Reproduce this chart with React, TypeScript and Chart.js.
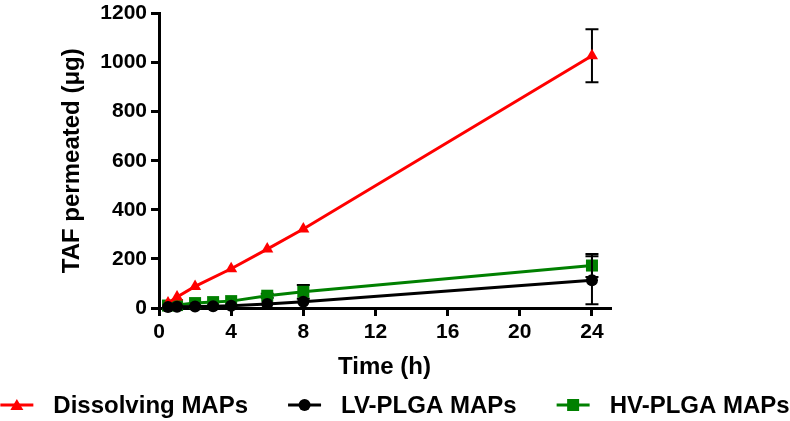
import React, { useEffect, useRef } from 'react';
import { Chart, registerables } from 'chart.js';

Chart.register(...registerables);

// ---- data ----
const TIMES_DISSOLVING = [0.5, 1, 2, 4, 6, 8, 24];
const DISSOLVING = [20, 45, 88, 160, 240, 322, 1028];
const DISSOLVING_ERR = [0, 0, 0, 0, 0, 0, 108];

const TIMES_PLGA = [0.5, 1, 2, 3, 4, 6, 8, 24];
const LV_PLGA = [4, 5, 6, 7, 9, 16, 25, 113];
const LV_PLGA_ERR = [0, 0, 0, 0, 0, 0, 0, 98];
const HV_PLGA = [10, 12, 20, 24, 28, 50, 66, 173];
const HV_PLGA_ERR = [0, 0, 0, 0, 0, 8, 28, 47];

const X_TICKS = [0, 4, 8, 12, 16, 20, 24];
const Y_TICKS = [0, 200, 400, 600, 800, 1000, 1200];

const SERIES_LABELS = ['Dissolving MAPs', 'LV-PLGA MAPs', 'HV-PLGA MAPs'];
const SERIES_COLORS = ['#ff0000', '#000000', '#008000'];
const SERIES_SHAPES = ['triangle', 'circle', 'rect'];
const SERIES_ORDER = [1, 0, 2];

const FONT_FAMILY = '"Liberation Sans", Arial, Helvetica, sans-serif';

const toPoints = (xs: number[], ys: number[]) => xs.map((x, i) => ({ x, y: ys[i] }));

const errorBarPlugin = {
  id: 'errorBars',
  beforeDatasetDraw(chart: any, args: any) {
    const ds = chart.data.datasets[args.index];
    const errs: number[] | undefined = ds.errors;
    if (!errs) return;
    const yScale = chart.scales.y;
    const ctx = chart.ctx;
    ctx.save();
    ctx.strokeStyle = '#000';
    ctx.lineWidth = 2;
    args.meta.data.forEach((pt: any, i: number) => {
      const e = errs[i];
      if (!e) return;
      const v = ds.data[i].y;
      const yt = yScale.getPixelForValue(v + e);
      const yb = yScale.getPixelForValue(v - e);
      const x = pt.x;
      ctx.beginPath();
      ctx.moveTo(x, yt);
      ctx.lineTo(x, yb);
      ctx.moveTo(x - 6.5, yt);
      ctx.lineTo(x + 6.5, yt);
      ctx.moveTo(x - 6.5, yb);
      ctx.lineTo(x + 6.5, yb);
      ctx.stroke();
    });
    ctx.restore();
  },
};

function drawMarker(ctx: CanvasRenderingContext2D, shape: string, x: number, y: number, color: string) {
  ctx.fillStyle = color;
  ctx.beginPath();
  if (shape === 'triangle') {
    ctx.moveTo(x, y - 6);
    ctx.lineTo(x + 6.5, y + 5);
    ctx.lineTo(x - 6.5, y + 5);
    ctx.closePath();
  } else if (shape === 'circle') {
    ctx.arc(x, y, 6, 0, Math.PI * 2);
  } else {
    ctx.rect(x - 6, y - 6, 12, 12);
  }
  ctx.fill();
}

const bottomLegendPlugin = {
  id: 'bottomLegend',
  afterDraw(chart: any) {
    const ctx: CanvasRenderingContext2D = chart.ctx;
    ctx.save();
    ctx.font = `bold 24px ${FONT_FAMILY}`;
    const markerW = 33;
    const gapText = 20;
    const gapItem = 40;
    const widths = SERIES_LABELS.map((t) => ctx.measureText(t).width);
    const total = widths.reduce((a, b) => a + b, 0) + 3 * (markerW + gapText) + 2 * gapItem;
    let x = (chart.width - total) / 2;
    const yLine = 405;
    SERIES_LABELS.forEach((label, i) => {
      ctx.strokeStyle = SERIES_COLORS[i];
      ctx.lineWidth = 3;
      ctx.beginPath();
      ctx.moveTo(x, yLine);
      ctx.lineTo(x + markerW, yLine);
      ctx.stroke();
      drawMarker(ctx, SERIES_SHAPES[i], x + markerW / 2, yLine, SERIES_COLORS[i]);
      ctx.fillStyle = '#000';
      ctx.textBaseline = 'alphabetic';
      ctx.textAlign = 'left';
      ctx.fillText(label, x + markerW + gapText, 413);
      x += markerW + gapText + widths[i] + gapItem;
    });
    ctx.restore();
  },
};

export default function App() {
  const canvasRef = useRef<HTMLCanvasElement | null>(null);

  useEffect(() => {
    document.body.style.margin = '0';
    const canvas = canvasRef.current;
    if (!canvas) return;

    const datasets: any[] = [
      {
        label: SERIES_LABELS[0],
        data: toPoints(TIMES_DISSOLVING, DISSOLVING),
        errors: DISSOLVING_ERR,
        pointRadius: 7,
      },
      {
        label: SERIES_LABELS[1],
        data: toPoints(TIMES_PLGA, LV_PLGA),
        errors: LV_PLGA_ERR,
        pointRadius: 6,
      },
      {
        label: SERIES_LABELS[2],
        data: toPoints(TIMES_PLGA, HV_PLGA),
        errors: HV_PLGA_ERR,
        pointRadius: 8.5,
      },
    ].map((d, i) => ({
      ...d,
      order: SERIES_ORDER[i],
      borderColor: SERIES_COLORS[i],
      backgroundColor: SERIES_COLORS[i],
      pointStyle: SERIES_SHAPES[i],
      borderWidth: 3,
      pointBorderWidth: 0,
      pointBackgroundColor: SERIES_COLORS[i],
      pointHoverRadius: d.pointRadius,
      tension: 0,
      fill: false,
      clip: false,
    }));

    const tickFont = { family: FONT_FAMILY, size: 21, weight: 'bold' as const, lineHeight: 0.9 };
    const titleFont = { family: FONT_FAMILY, size: 24, weight: 'bold' as const, lineHeight: 1.2 };

    const chart = new Chart(canvas, {
      type: 'line',
      data: { datasets },
      plugins: [errorBarPlugin, bottomLegendPlugin],
      options: {
        animation: false,
        responsive: false,
        maintainAspectRatio: false,
        devicePixelRatio: 1,
        layout: { padding: { top: 10, left: 57.6, right: 180, bottom: 39.6 } },
        plugins: {
          legend: { display: false },
          tooltip: { enabled: false },
        },
        scales: {
          x: {
            type: 'linear',
            min: 0,
            max: 25,
            afterBuildTicks: (s: any) => {
              s.ticks = X_TICKS.map((v) => ({ value: v }));
            },
            afterFit: (s: any) => {
              s.height = 73.4;
            },
            grid: {
              display: true,
              drawOnChartArea: false,
              drawTicks: true,
              tickLength: 8,
              color: '#000',
              lineWidth: 3,
            },
            border: { display: true, color: '#000', width: 3 },
            ticks: {
              color: '#000',
              font: tickFont,
              padding: 7,
              maxRotation: 0,
              autoSkip: false,
              callback: (v: any) => String(v),
            },
            title: { display: true, text: 'Time (h)', color: '#000', font: titleFont, padding: 0 },
          },
          y: {
            type: 'linear',
            min: 0,
            max: 1200,
            afterBuildTicks: (s: any) => {
              s.ticks = Y_TICKS.map((v) => ({ value: v }));
            },
            afterFit: (s: any) => {
              s.width = 101.4;
            },
            grid: {
              display: true,
              drawOnChartArea: false,
              drawTicks: true,
              tickLength: 8,
              color: '#000',
              lineWidth: 3,
            },
            border: { display: true, color: '#000', width: 3 },
            ticks: {
              color: '#000',
              font: tickFont,
              padding: 4,
              autoSkip: false,
              callback: (v: any) => String(v),
            },
            title: { display: true, text: 'TAF permeated (μg)', color: '#000', font: titleFont, padding: 0 },
          },
        },
      } as any,
    });

    return () => chart.destroy();
  }, []);

  return (
    <div style={{ width: 790, height: 421 }}>
      <canvas ref={canvasRef} width={790} height={421} style={{ display: 'block' }} />
    </div>
  );
}
